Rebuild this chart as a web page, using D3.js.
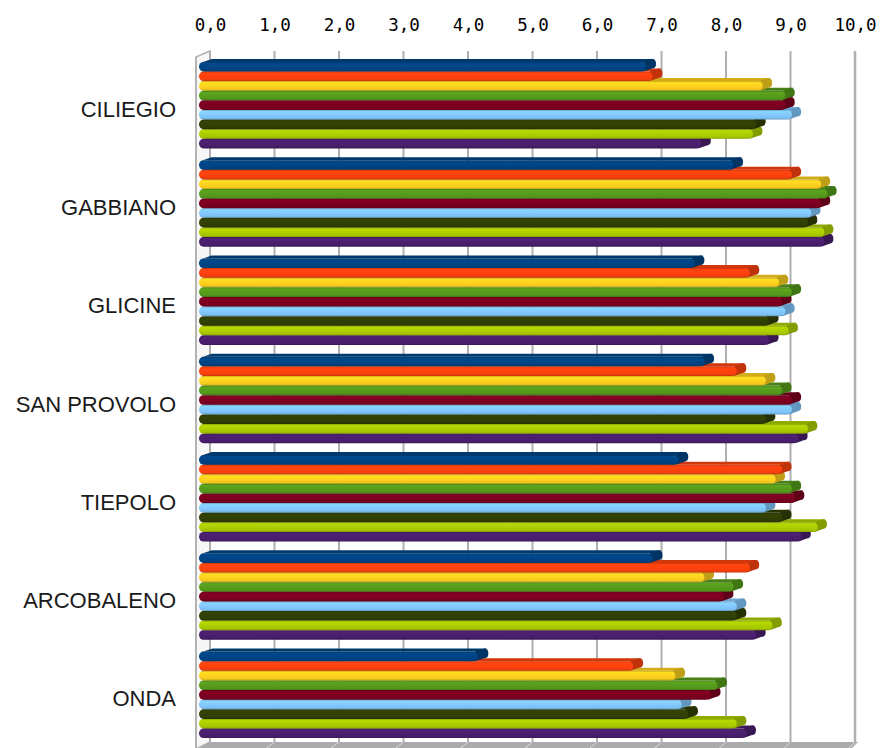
<!DOCTYPE html>
<html>
<head>
<meta charset="utf-8">
<script src="https://cdn.jsdelivr.net/npm/d3@7"></script>
<style>
  body { margin: 0; background: #fff; }
  svg { display: block; }
</style>
</head>
<body>
<svg id="chart" width="881" height="748"></svg>
<script>
// categories (top to bottom)
var categories = ["CILIEGIO", "GABBIANO", "GLICINE", "SAN PROVOLO", "TIEPOLO", "ARCOBALENO", "ONDA"];

// one array per series, values in category order
var serie1 = [6.9, 8.25, 7.65, 7.8, 7.4, 7.0, 4.3];
var serie2 = [7.0, 9.15, 8.5, 8.3, 9.0, 8.5, 6.7];
var serie3 = [8.7, 9.6, 8.95, 8.75, 8.9, 7.8, 7.35];
var serie4 = [9.05, 9.7, 9.15, 9.0, 9.15, 8.25, 8.0];
var serie5 = [9.05, 9.6, 9.0, 9.15, 9.2, 8.1, 7.9];
var serie6 = [9.15, 9.45, 9.05, 9.15, 8.75, 8.3, 7.45];
var serie7 = [8.6, 9.4, 8.8, 8.75, 9.0, 8.3, 7.55];
var serie8 = [8.55, 9.65, 9.1, 9.4, 9.55, 8.85, 8.3];
var serie9 = [7.75, 9.65, 8.8, 9.25, 9.3, 8.6, 8.45];
var series = [serie1, serie2, serie3, serie4, serie5, serie6, serie7, serie8, serie9];

// axis ticks
var ticks = [0, 1, 2, 3, 4, 5, 6, 7, 8, 9, 10];

var colors = ["#004586", "#ff420e", "#ffd320", "#579d1c", "#7e0021",
              "#83caff", "#314004", "#aecf00", "#4b1f6f"];

var svg = d3.select("svg#chart");
var defs = svg.append("defs");

// back wall and front plane scales (fake perspective)
var xBack = d3.scaleLinear().domain([0, 10]).range([210, 855]);
var xFront = d3.scaleLinear().domain([0, 10]).range([199, 847]);

var yCat = d3.scaleBand()
  .domain(categories)
  .range([56, 744])
  .paddingInner(0.12)
  .paddingOuter(0.06);

var ySer = d3.scaleBand()
  .domain(d3.range(series.length))
  .range([0, yCat.bandwidth()])
  .padding(0.0);

var wallTop = 51, wallBottom = 742, depthY = 3;

// gradients for cylinder look
colors.forEach(function(c, i) {
  var g = defs.append("linearGradient")
    .attr("id", "grad" + i)
    .attr("x1", 0).attr("y1", 0).attr("x2", 0).attr("y2", 1);
  var base = d3.color(c);
  g.append("stop").attr("offset", "0%").attr("stop-color", base.darker(0.7));
  g.append("stop").attr("offset", "16%").attr("stop-color", base.brighter(0.15));
  g.append("stop").attr("offset", "50%").attr("stop-color", base);
  g.append("stop").attr("offset", "84%").attr("stop-color", base.darker(0.15));
  g.append("stop").attr("offset", "100%").attr("stop-color", base.darker(0.8));
});

// left wall
svg.append("polygon")
  .attr("points", [[196, 57], [210, wallTop], [210, wallBottom], [196, 749]].join(" "))
  .attr("fill", "#f7f7f7")
  .attr("stroke", "#b3b3b3")
  .attr("stroke-width", 1.5);

// floor
svg.append("polygon")
  .attr("points", [[210, wallBottom], [858, wallBottom], [850, 750], [196, 750]].join(" "))
  .attr("fill", "#ababab");

svg.append("g").selectAll("line")
  .data(ticks.slice(1))
  .enter().append("line")
  .attr("x1", function(d) { return xBack(d); })
  .attr("x2", function(d) { return xFront(d); })
  .attr("y1", wallBottom)
  .attr("y2", 750)
  .attr("stroke", "#dcdcdc")
  .attr("stroke-width", 1);

// gridlines on back wall
svg.append("g").selectAll("line")
  .data(ticks)
  .enter().append("line")
  .attr("x1", function(d) { return xBack(d); })
  .attr("x2", function(d) { return xBack(d); })
  .attr("y1", wallTop)
  .attr("y2", wallBottom)
  .attr("stroke", "#b0b0b0")
  .attr("stroke-width", function(d) { return d === 10 ? 2.5 : 2; });

// front edge of left wall
svg.append("line")
  .attr("x1", 196).attr("x2", 196)
  .attr("y1", 57).attr("y2", 749)
  .attr("stroke", "#b3b3b3")
  .attr("stroke-width", 2);

// bars
var gBars = svg.append("g");
categories.forEach(function(cat, ci) {
  // draw bottom series first so the upper bar hides the lower bar's top face
  for (var si = series.length - 1; si >= 0; si--) {
    var v = series[si][ci];
    var base = d3.color(colors[si]);
    var yt = yCat(cat) + ySer(si);
    var yb = yt + ySer.bandwidth();
    var x0 = xFront(0);
    var xe = xFront(v);
    var dx = xBack(v) - xFront(v);
    var g = gBars.append("g");

    // top face
    g.append("polygon")
      .attr("points", [[x0 + 4, yt], [xe, yt], [xe + dx, yt - depthY], [x0 + 4 + dx, yt - depthY]].join(" "))
      .attr("fill", base.darker(0.55));
    // end cap
    g.append("path")
      .attr("d", "M" + (xe - 3) + "," + yt +
                 "L" + (xe + dx - 3) + "," + (yt - depthY) +
                 "Q" + (xe + dx + 1) + "," + (yt - depthY) + " " + (xe + dx + 1) + "," + ((yt + yb) / 2 - depthY) +
                 "Q" + (xe + dx + 1) + "," + (yb - depthY) + " " + (xe + dx - 3) + "," + (yb - depthY) +
                 "L" + (xe - 3) + "," + yb + "Z")
      .attr("fill", base.darker(0.8));
    // front face
    g.append("rect")
      .attr("x", x0)
      .attr("y", yt)
      .attr("width", xe - x0)
      .attr("height", yb - yt)
      .attr("rx", 4.5)
      .attr("ry", 4.8)
      .attr("fill", "url(#grad" + si + ")");
  }
});

// top axis labels
var axis = d3.axisTop(xBack)
  .tickValues(ticks)
  .tickFormat(function(d) { return d3.format(".1f")(d).replace(".", ","); })
  .tickSize(0)
  .tickPadding(0);

var gAxis = svg.append("g")
  .attr("transform", "translate(0,31)")
  .call(axis);
gAxis.select(".domain").remove();
gAxis.selectAll("text")
  .attr("font-family", "DejaVu Sans Mono")
  .attr("font-size", 17.5)
  .attr("fill", "#000");

// category labels
svg.append("g").selectAll("text")
  .data(categories)
  .enter().append("text")
  .attr("x", 176)
  .attr("y", function(d) { return yCat(d) + yCat.bandwidth() / 2 + 11.5; })
  .attr("text-anchor", "end")
  .attr("font-family", "Liberation Sans")
  .attr("font-size", 22)
  .attr("fill", "#1a1a1a")
  .text(function(d) { return d; });
</script>
</body>
</html>
